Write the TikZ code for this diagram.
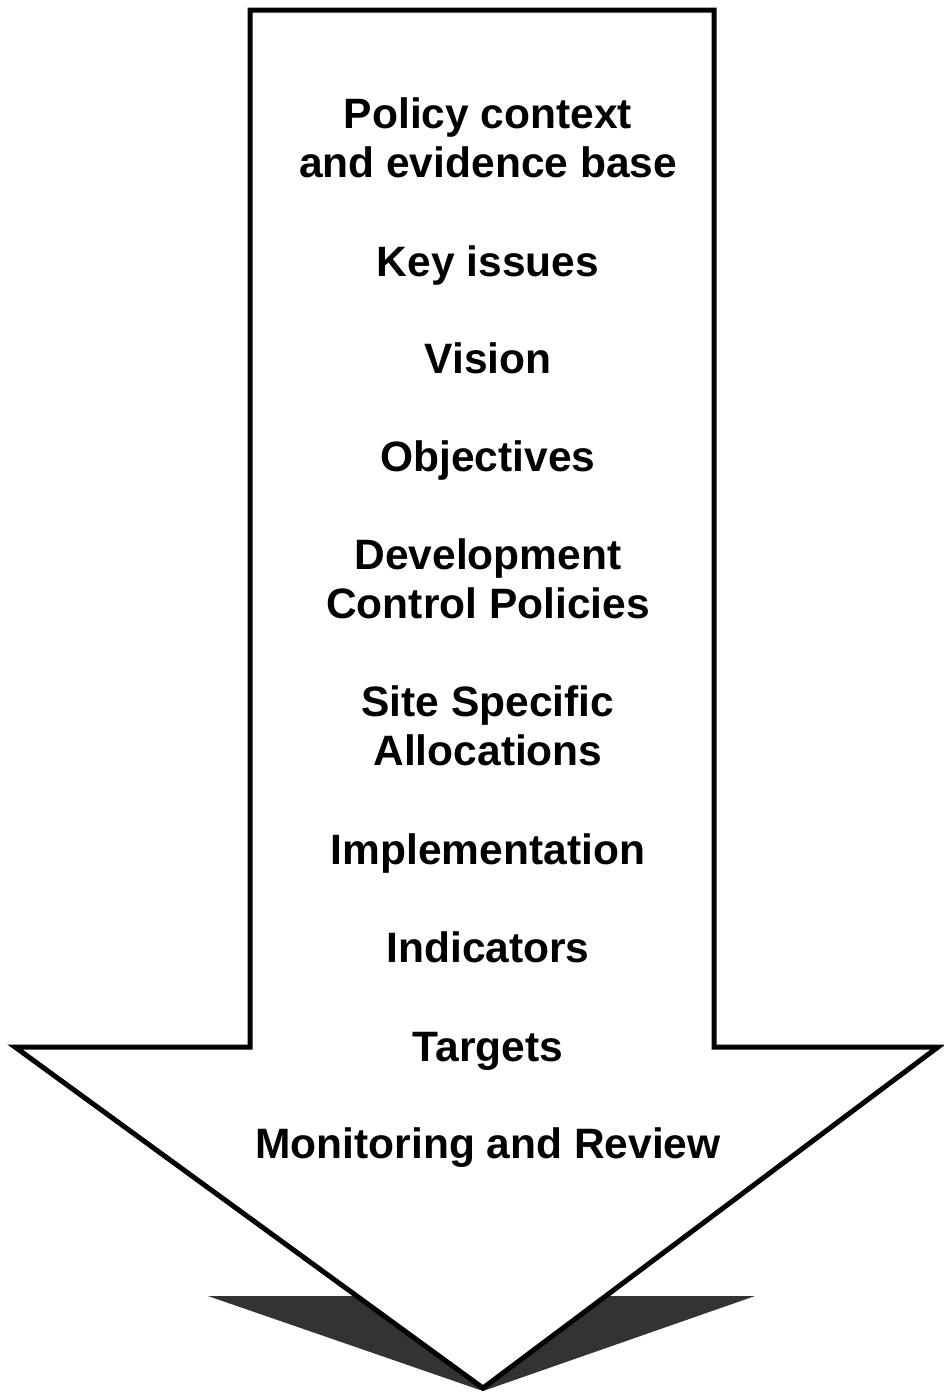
\documentclass[tikz,border=0pt]{standalone}
\usepackage{fontspec}
\setmainfont{Liberation Sans}
\begin{document}
\begin{tikzpicture}[x=1pt,y=-1pt,
  lbl/.style={anchor=base,align=center,inner sep=0pt,font=\bfseries\fontsize{42.5}{49}\selectfont},
  arrowbody/.style={draw=black,fill=white,line width=5pt,line join=miter}]
\useasboundingbox (0,0) rectangle (944,1393);
% shadow
\fill[fill={rgb,255:red,51;green,51;blue,51}] (208,1296) -- (755,1296) -- (483,1391) -- cycle;
% arrow
\draw[arrowbody] (250,10) -- (714,10) -- (714,1047) -- (938,1047) -- (483,1388) -- (15,1047) -- (250,1047) -- cycle;
\node[lbl] (n1) at (488,177) {Policy context\\and evidence base};
\node[lbl] (n2) at (488,276) {Key issues};
\node[lbl] (n3) at (488,373) {Vision};
\node[lbl] (n4) at (488,471) {Objectives};
\node[lbl] (n5) at (488,618) {Development\\Control Policies};
\node[lbl] (n6) at (488,765) {Site Specific\\Allocations};
\node[lbl] (n7) at (488,864) {Implementation};
\node[lbl] (n8) at (488,962) {Indicators};
\node[lbl] (n9) at (488,1061) {Targets};
\node[lbl] (n10) at (488,1158) {Monitoring and Review};
\end{tikzpicture}
\end{document}
